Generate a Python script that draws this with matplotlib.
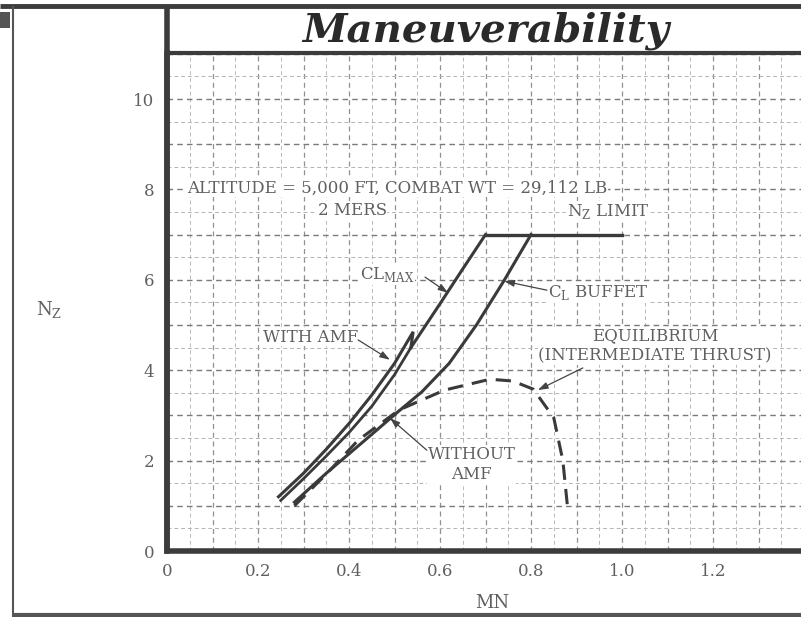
import matplotlib
matplotlib.use("Agg")
import matplotlib.pyplot as plt
from matplotlib.lines import Line2D
from matplotlib.patches import Rectangle

# ---------------- data ----------------
mn_clmax_amf = [0.245, 0.30, 0.35, 0.40, 0.45, 0.50, 0.541, 0.536]
nz_clmax_amf = [1.20, 1.72, 2.25, 2.82, 3.45, 4.15, 4.85, 4.50]

mn_clmax = [0.536, 0.60, 0.65, 0.70]
nz_clmax = [4.50, 5.47, 6.24, 7.00]

mn_clmax_noamf = [0.25, 0.30, 0.35, 0.40, 0.45, 0.50, 0.536]
nz_clmax_noamf = [1.12, 1.60, 2.10, 2.62, 3.20, 3.90, 4.50]

mn_buffet = [0.28, 0.35, 0.45, 0.51, 0.56, 0.62, 0.68, 0.74, 0.80]
nz_buffet = [1.08, 1.72, 2.58, 3.10, 3.52, 4.15, 5.00, 5.97, 7.00]

mn_limit = [0.70, 1.00]
nz_limit = [7.00, 7.00]

mn_equil = [0.28, 0.35, 0.42, 0.51, 0.61, 0.71, 0.76, 0.805, 0.85, 0.87, 0.88]
nz_equil = [1.00, 1.70, 2.45, 3.12, 3.56, 3.80, 3.76, 3.58, 2.95, 2.00, 1.00]

xticks = [0, 0.2, 0.4, 0.6, 0.8, 1.0, 1.2]
xticklabels = ["0", "0.2", "0.4", "0.6", "0.8", "1.0", "1.2"]
yticks = [0, 2, 4, 6, 8, 10]
yticklabels = ["0", "2", "4", "6", "8", "10"]

# ---------------- figure ----------------
W, H = 801, 617
fig = plt.figure(figsize=(W / 100, H / 100), dpi=100)
fig.patch.set_facecolor("white")

x0, x1 = 167, 801
y0, y1 = 551, 53
ax = fig.add_axes([x0 / W, 1 - y0 / H, (x1 - x0) / W, (y0 - y1) / H])
ax.set_xlim(0, (x1 - x0) / 455.0)
ax.set_ylim(0, (y0 - y1) / 45.2)

serif = ["DejaVu Serif"]
tcol = "#606060"
lcol = "#3a3a3a"

# grid
for v in [i * 0.05 for i in range(1, 28)]:
    major = abs(v * 10 - round(v * 10)) < 1e-6
    ax.axvline(v, color="#909090" if major else "#b8b8b8", lw=0.9 if major else 0.7,
               ls=(0, (4, 3)), zorder=0)
for v in [i * 0.5 for i in range(1, 23)]:
    major = abs(v - round(v)) < 1e-6
    ax.axhline(v, color="#7a7a7a" if major else "#b4b4b4", lw=1.0 if major else 0.7,
               ls=(0, (4, 3)), zorder=0)

# curves
ax.plot(mn_clmax_amf, nz_clmax_amf, color=lcol, lw=2.2, solid_joinstyle="miter", zorder=3)
ax.plot(mn_clmax, nz_clmax, color=lcol, lw=2.2, zorder=3)
ax.plot(mn_clmax_noamf, nz_clmax_noamf, color=lcol, lw=2.0, zorder=3)
ax.plot(mn_buffet, nz_buffet, color=lcol, lw=2.2, zorder=3)
ax.plot(mn_limit, nz_limit, color=lcol, lw=2.4, zorder=3)
ax.plot(mn_equil, nz_equil, color=lcol, lw=2.2, ls=(0, (5, 3)), zorder=3)

# spines
for s in ["top", "right"]:
    ax.spines[s].set_visible(False)
ax.spines["left"].set_linewidth(4)
ax.spines["bottom"].set_linewidth(4)
ax.spines["left"].set_color("#3c3c3c")
ax.spines["bottom"].set_color("#3c3c3c")

ax.set_xticks(xticks)
ax.set_xticklabels(xticklabels, fontfamily=serif, fontsize=12, color=tcol)
ax.set_yticks(yticks)
ax.set_yticklabels(yticklabels, fontfamily=serif, fontsize=12, color=tcol)
ax.tick_params(length=0, pad=9)

fig.text(492 / W, 1 - 603 / H, "MN", fontfamily=serif, fontsize=13, color=tcol,
         ha="center", va="center")
fig.text(49 / W, 1 - 310 / H, r"N$_{\mathregular{Z}}$", fontfamily=serif, fontsize=13,
         color=tcol, ha="center", va="center")

tk = dict(fontfamily=serif, fontsize=12, color=tcol)
bb = dict(fc="white", ec="none", pad=0.5)
ax.text(0.044, 8.03, "ALTITUDE = 5,000 FT, COMBAT WT = 29,112 LB", ha="left", va="center",
        bbox=bb, **tk)
ax.text(0.407, 7.54, "2 MERS", ha="center", va="center", bbox=bb, **tk)
ax.text(0.879, 7.52, r"N$_{\mathregular{Z}}$ LIMIT", ha="left", va="center", bbox=bb, **tk)
ax.text(0.424, 6.12, r"CL$_{\mathregular{MAX}}$", ha="left", va="center", bbox=bb, **tk)
ax.text(0.837, 5.72, r"C$_{\mathregular{L}}$ BUFFET", ha="left", va="center", bbox=bb, **tk)
ax.text(0.211, 4.73, "WITH AMF", ha="left", va="center", bbox=bb, **tk)
ax.text(1.073, 4.54, "EQUILIBRIUM\n(INTERMEDIATE THRUST)", ha="center", va="center",
        linespacing=1.25, bbox=bb, **tk)
ax.text(0.67, 1.92, "WITHOUT\nAMF", ha="center", va="center", linespacing=1.25, bbox=bb, **tk)

ap = dict(arrowstyle="-|>,head_length=0.6,head_width=0.2", color="#444444", lw=0.9,
          shrinkA=0, shrinkB=0)
ax.annotate("", xy=(0.618, 5.71), xytext=(0.567, 6.06), arrowprops=ap)
ax.annotate("", xy=(0.741, 5.97), xytext=(0.835, 5.77), arrowprops=ap)
ax.annotate("", xy=(0.490, 4.23), xytext=(0.420, 4.67), arrowprops=ap)
ax.annotate("", xy=(0.815, 3.56), xytext=(0.914, 4.05), arrowprops=ap)
ax.annotate("", xy=(0.490, 2.94), xytext=(0.571, 2.23), arrowprops=ap)

# title box
ax.text(0.70, 11.5, "Maneuverability", fontfamily=["DejaVu Serif"], fontsize=29,
        fontstyle="italic", fontweight="bold", color="#2a2a2a", ha="center", va="center",
        clip_on=False)

def fline(xs, ys, lw, color="#3c3c3c"):
    fig.add_artist(Line2D([x / W for x in xs], [1 - y / H for y in ys], lw=lw,
                          color=color, transform=fig.transFigure, solid_capstyle="butt"))

fline([0, W], [6, 6], 3.5)
fline([167, W], [53, 53], 3)
fline([167, 167], [6, 551], 4)
fline([13, 13], [6, H], 1.5, "#555555")
fline([13, W], [615, 615], 3, "#555555")
fig.add_artist(Rectangle((0, 1 - 28 / H), 10 / W, 16 / H, transform=fig.transFigure,
                         fc="#555555", ec="none"))

fig.savefig("out.png", dpi=100)
